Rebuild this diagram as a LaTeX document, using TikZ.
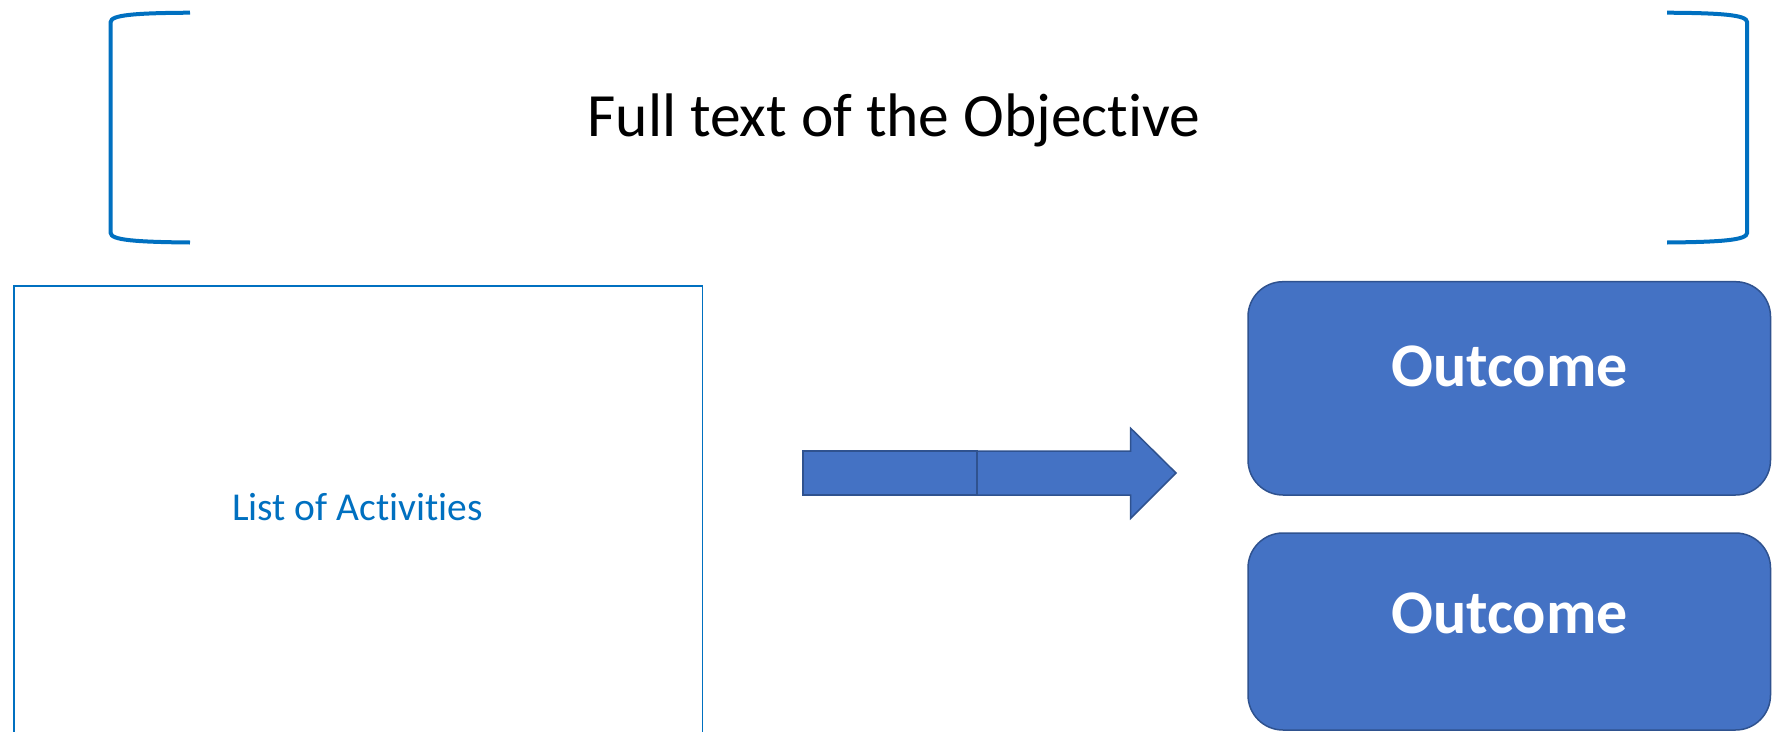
\documentclass[tikz,border=0pt]{standalone}
\usepackage{fontspec}
\setmainfont[Ligatures=NoCommon]{Carlito}
\definecolor{bracketblue}{HTML}{0070C0}
\definecolor{boxfill}{HTML}{4472C4}
\definecolor{boxedge}{HTML}{2F528F}
\begin{document}
\begin{tikzpicture}[x=1pt,y=-1pt,
  bracket/.style={draw=bracketblue,line width=4pt,line cap=butt},
  actbox/.style={draw=bracketblue,line width=1.6pt},
  outbox/.style={draw=boxedge,fill=boxfill,line width=1.5pt,rounded corners=35pt},
  arrowpart/.style={draw=boxedge,fill=boxfill,line width=1.5pt,line join=miter},
  outtext/.style={font=\fontsize{62}{74}\selectfont\bfseries,text=white,anchor=base,inner sep=0pt},
]
\clip (0,0) rectangle (1772,731);
\fill[white] (0,0) rectangle (1772,731);

% brackets
\draw[bracket] (190,12.7) .. controls (135,13) and (110.7,15) .. (110.7,22) -- (110.7,233)
  .. controls (110.7,240) and (135,242) .. (190,242.5);
\draw[bracket] (1667,12.7) .. controls (1722,13) and (1747,15) .. (1747,22) -- (1747,233)
  .. controls (1747,240) and (1722,242) .. (1667,242.5);
\node[anchor=base,inner sep=0pt,font=\fontsize{61.5}{74}\selectfont] (title) at (894,136.7) {Full text of the Objective};

% activities
\draw[actbox] (13.8,285.7) rectangle (702.5,745);
\node[anchor=base,inner sep=0pt,font=\fontsize{39.5}{47}\selectfont,text=bracketblue] (act) at (357.5,520.7) {List of Activities};

% arrow
\draw[arrowpart] (803,451) rectangle (977,495);
\draw[arrowpart] (977,451) -- (1130.7,451) -- (1130.7,428.3) -- (1176,473) -- (1130.7,518.3) -- (1130.7,495) -- (977,495) -- cycle;

% outcomes
\draw[outbox] (1248,281.7) rectangle (1770.5,495);
\node[outtext] (o1) at (1509.5,386.7) {Outcome};
\draw[outbox] (1248,533) rectangle (1770.5,730);
\node[outtext] (o2) at (1509.5,633) {Outcome};
\end{tikzpicture}
\end{document}
